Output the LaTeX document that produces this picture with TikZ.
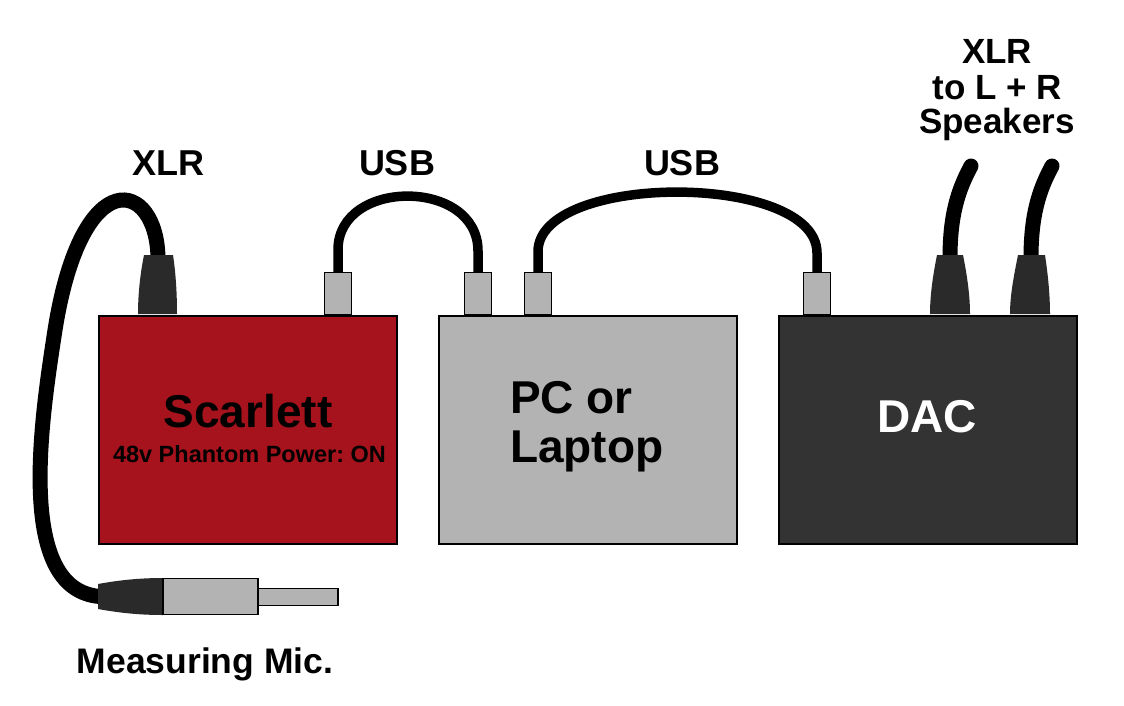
\documentclass[tikz,border=0pt]{standalone}
\usepackage{fontspec}
\setmainfont{Liberation Sans}
\frenchspacing
\definecolor{scarred}{HTML}{A6131C}
\definecolor{pcgray}{HTML}{B3B3B3}
\definecolor{dacgray}{HTML}{333333}
\definecolor{xlrdark}{HTML}{2A2A2A}
\tikzset{
  box/.style={draw=black, line width=2pt, minimum width=298pt, minimum height=228pt, inner sep=0pt},
  usbcon/.style={draw=black, line width=1.5pt, fill=pcgray, minimum width=27pt, minimum height=42pt, inner sep=0pt},
  xlrcable/.style={line width=15pt, draw=black},
  usbcable/.style={line width=9.5pt, draw=black},
  xlrplug/.style={fill=xlrdark, draw=none},
  lbl/.style={font=\bfseries\fontsize{36}{36}\selectfont, inner sep=0pt, anchor=base},
  biglbl/.style={font=\bfseries\fontsize{46}{46}\selectfont, inner sep=0pt},
}
\begin{document}
\begin{tikzpicture}[x=1pt, y=-1pt]
\useasboundingbox (0,0) rectangle (1124,705);
\fill[white] (0,0) rectangle (1124,705);

% named end points
\coordinate (sxlr) at (158,258);
\coordinate (micend) at (100,596.5);
\coordinate (dxlrA) at (950,258);
\coordinate (dxlrB) at (1031,258);
\coordinate (spkA) at (971,166);
\coordinate (spkB) at (1052,166);

% cables
\draw[xlrcable] (sxlr) .. controls (157,180) and (82,160) .. (55,330)
  .. controls (42,415) and (14,590) .. (micend);
\draw[xlrcable, line cap=round] (dxlrA) .. controls (950,215) and (958,190) .. (spkA);
\draw[xlrcable, line cap=round] (dxlrB) .. controls (1031,215) and (1039,190) .. (spkB);

% boxes
\node[box, fill=scarred] (scarlett) at (248,430) {};
\node[box, fill=pcgray] (pc) at (588,430) {};
\node[box, fill=dacgray] (dac) at (928,430) {};

% USB connectors
\node[usbcon] (usbS) at (338,293.5) {};
\node[usbcon] (usbPa) at (478,293.5) {};
\node[usbcon] (usbPb) at (538,293.5) {};
\node[usbcon] (usbD) at (817,293.5) {};

% USB cables
\draw[usbcable] (usbS.north) -- ++(0,-22) .. controls (338,178) and (478,178) .. (478,251) -- (usbPa.north);
\draw[usbcable] (usbPb.north) -- ++(0,-20) .. controls (538,172) and (817,172) .. (817,253) -- (usbD.north);

% XLR plugs
\path[xlrplug] (144,255) -- (173,255) .. controls (176,275) and (177,295) .. (177,314)
  -- (138,314) .. controls (138,295) and (140,275) .. (144,255) -- cycle;
\path[xlrplug] (937,255) -- (963,255) .. controls (967,275) and (970,295) .. (970,314)
  -- (930,314) .. controls (930,295) and (933,275) .. (937,255) -- cycle;
\path[xlrplug] (1018,255) -- (1045,255) .. controls (1048,275) and (1050,295) .. (1050,314)
  -- (1010,314) .. controls (1010,295) and (1014,275) .. (1018,255) -- cycle;

% measuring mic
\path[xlrplug] (98,584) .. controls (120,580) and (140,578) .. (163,578) -- (163,615)
  .. controls (140,615) and (120,613) .. (98,609) -- cycle;
\node[draw=black, line width=1.5pt, fill=pcgray, minimum width=80pt, minimum height=17pt, inner sep=0pt] (mictip) at (298,597) {};
\node[draw=black, line width=1.5pt, fill=pcgray, minimum width=95pt, minimum height=36pt, inner sep=0pt] (micbody) at (210.5,596.5) {};

% texts
\node[lbl] (lxlr) at (168,175) {XLR};
\node[lbl] (lusbA) at (397,175) {USB};
\node[lbl] (lusbB) at (682,175) {USB};
\node[lbl, font=\bfseries\fontsize{35}{35}\selectfont] (lspk1) at (997,63) {XLR};
\node[lbl, font=\bfseries\fontsize{35}{35}\selectfont] (lspk2) at (997,99) {to L + R};
\node[lbl, font=\bfseries\fontsize{35}{35}\selectfont] (lspk3) at (997,133) {Speakers};
\node[lbl, font=\bfseries\fontsize{35.5}{35.5}\selectfont] (lmic) at (205,673) {Measuring Mic.};

\node[biglbl, anchor=base] (tscar) at (248,427) {Scarlett};
\node[inner sep=0pt, anchor=base, font=\bfseries\fontsize{23.5}{23.5}\selectfont] (tphantom) at (249.5,462) {48v Phantom Power: ON};
\node[biglbl, anchor=base west] (tpc1) at (510,413) {PC or};
\node[biglbl, anchor=base west] (tpc2) at (510,462) {Laptop};
\node[biglbl, anchor=base, text=white] (tdac) at (927,432) {DAC};
\end{tikzpicture}
\end{document}
